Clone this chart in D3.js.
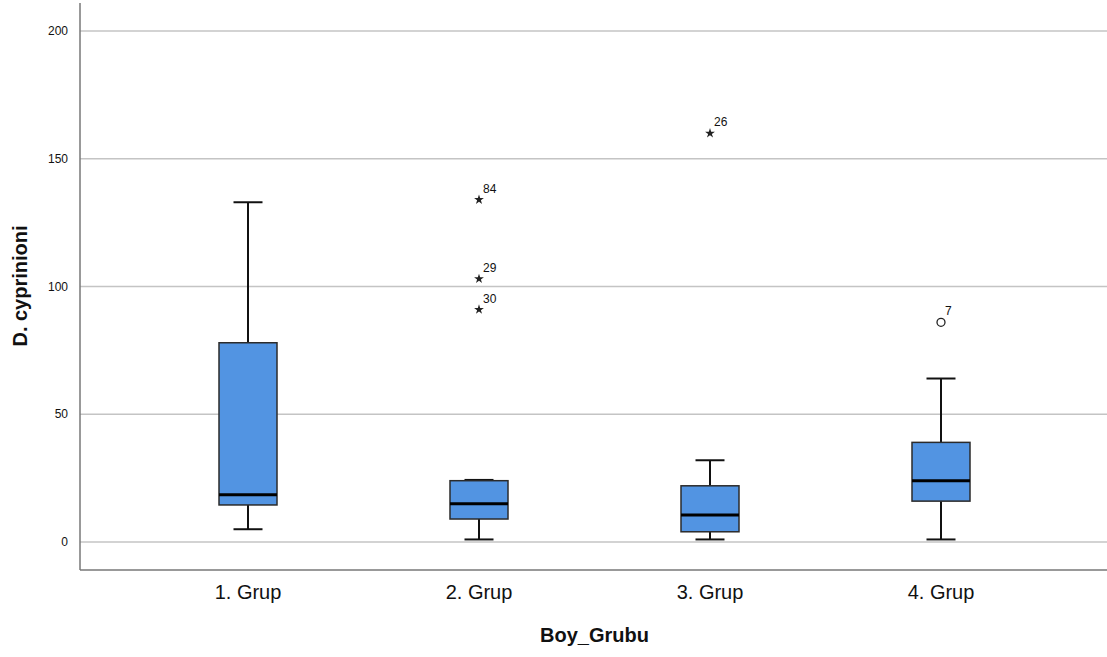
<!DOCTYPE html>
<html>
<head>
<meta charset="utf-8">
<script src="https://cdn.jsdelivr.net/npm/d3@7"></script>
<style>
  body { margin: 0; background: #fff; }
  text { font-family: "Liberation Sans", Arial, sans-serif; fill: #111; }
</style>
</head>
<body>
<svg id="chart" width="1107" height="657"></svg>
<script>
// values
const groups = ['1. Grup', '2. Grup', '3. Grup', '4. Grup'];
const whiskerLow = [5, 1, 1, 1];
const q1 = [14.5, 9, 4, 16];
const median = [18.5, 15, 10.6, 24];
const q3 = [78, 24, 22, 39];
const whiskerHigh = [133, 24.3, 32, 64];
// outliers: [groupIndex, value, caseLabel, kind]
const outliers = [
    [1, 134, '84', 'star'],
    [1, 103, '29', 'star'],
    [1, 91, '30', 'star'],
    [2, 160, '26', 'star'],
    [3, 86, '7', 'circle']
];
const yTicks = [0, 50, 100, 150, 200];

const svg = d3.select('#chart');
const plotLeft = 80, plotRight = 1107, plotTop = 3, plotBottom = 570;

const y = d3.scaleLinear().domain([-10.96, 211]).range([plotBottom, plotTop]);
const x = d3.scalePoint().domain(groups).range([248, 941]);
const boxW = 58, capW = 29;

// gridlines
svg.append('g').selectAll('line').data(yTicks).enter().append('line')
    .attr('x1', plotLeft).attr('x2', plotRight)
    .attr('y1', d => y(d)).attr('y2', d => y(d))
    .attr('stroke', '#c4c4c4').attr('stroke-width', 1.5);

// y tick labels
svg.append('g').selectAll('text').data(yTicks).enter().append('text')
    .attr('x', 68).attr('y', d => y(d)).attr('dy', '0.35em')
    .attr('text-anchor', 'end').attr('font-size', 12)
    .text(d => d);

// axis lines
svg.append('line').attr('x1', plotLeft).attr('x2', plotLeft).attr('y1', plotTop).attr('y2', plotBottom)
    .attr('stroke', '#777').attr('stroke-width', 1.5);
svg.append('line').attr('x1', plotLeft).attr('x2', plotRight).attr('y1', plotBottom).attr('y2', plotBottom)
    .attr('stroke', '#777').attr('stroke-width', 1.5);

// boxes
const idx = d3.range(groups.length);
const g = svg.append('g').selectAll('g').data(idx).enter().append('g');

g.append('line') // upper whisker
    .attr('x1', i => x(groups[i])).attr('x2', i => x(groups[i]))
    .attr('y1', i => y(q3[i])).attr('y2', i => y(whiskerHigh[i]))
    .attr('stroke', '#111').attr('stroke-width', 2);
g.append('line') // lower whisker
    .attr('x1', i => x(groups[i])).attr('x2', i => x(groups[i]))
    .attr('y1', i => y(q1[i])).attr('y2', i => y(whiskerLow[i]))
    .attr('stroke', '#111').attr('stroke-width', 2);
g.append('line')
    .attr('x1', i => x(groups[i]) - capW / 2).attr('x2', i => x(groups[i]) + capW / 2)
    .attr('y1', i => y(whiskerHigh[i])).attr('y2', i => y(whiskerHigh[i]))
    .attr('stroke', '#111').attr('stroke-width', 2);
g.append('line')
    .attr('x1', i => x(groups[i]) - capW / 2).attr('x2', i => x(groups[i]) + capW / 2)
    .attr('y1', i => y(whiskerLow[i])).attr('y2', i => y(whiskerLow[i]))
    .attr('stroke', '#111').attr('stroke-width', 2);
g.append('rect')
    .attr('x', i => x(groups[i]) - boxW / 2).attr('width', boxW)
    .attr('y', i => y(q3[i])).attr('height', i => y(q1[i]) - y(q3[i]))
    .attr('fill', '#5294e2').attr('stroke', '#2b2b2b').attr('stroke-width', 1.5);
g.append('line')
    .attr('x1', i => x(groups[i]) - boxW / 2).attr('x2', i => x(groups[i]) + boxW / 2)
    .attr('y1', i => y(median[i])).attr('y2', i => y(median[i]))
    .attr('stroke', '#000').attr('stroke-width', 3);

// outliers
const star = d3.symbol().type(d3.symbolStar).size(30);
const og = svg.append('g').selectAll('g').data(outliers).enter().append('g')
    .attr('transform', d => 'translate(' + x(groups[d[0]]) + ',' + y(d[1]) + ')');
og.filter(d => d[3] === 'star').append('path')
    .attr('d', star).attr('fill', '#222');
og.filter(d => d[3] === 'circle').append('circle')
    .attr('r', 4).attr('fill', 'none').attr('stroke', '#222').attr('stroke-width', 1.3);
og.append('text')
    .attr('x', 4).attr('y', -7).attr('font-size', 12)
    .text(d => d[2]);

// x labels
svg.append('g').selectAll('text').data(groups).enter().append('text')
    .attr('x', d => x(d)).attr('y', 599)
    .attr('text-anchor', 'middle').attr('font-size', 20)
    .text(d => d);

// axis titles
svg.append('text').attr('x', (x(groups[1]) + x(groups[2])) / 2).attr('y', 642)
    .attr('text-anchor', 'middle').attr('font-size', 20).attr('font-weight', 'bold')
    .text('Boy_Grubu');
svg.append('text')
    .attr('transform', 'translate(27,286) rotate(-90)')
    .attr('text-anchor', 'middle').attr('font-size', 20).attr('font-weight', 'bold')
    .text('D. cyprinioni');
</script>
</body>
</html>
